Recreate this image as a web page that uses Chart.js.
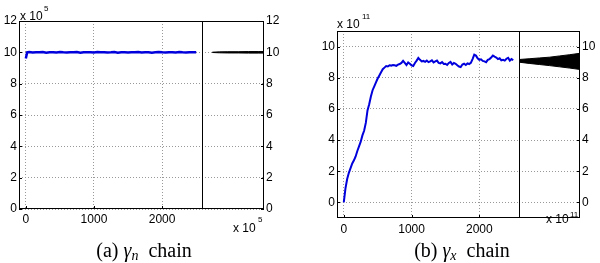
<!DOCTYPE html>
<html>
<head>
<meta charset="utf-8">
<script src="https://cdn.jsdelivr.net/npm/chart.js@4.4.0/dist/chart.umd.min.js"></script>
<style>
  html, body { margin: 0; padding: 0; background: #fff; }
  #wrap { position: relative; width: 600px; height: 263px; overflow: hidden; font-family: "Liberation Sans", Arial, sans-serif; }
  canvas { position: absolute; top: 0; }
  .ex { position: absolute; font-size: 12px; line-height: 12px; white-space: nowrap; color: #000; }
  .sup { position: absolute; font-size: 8px; line-height: 8px; white-space: nowrap; color: #000; }
  .cap { position: absolute; top: 240px; width: 200px; text-align: center; white-space: nowrap;
         font-family: "Liberation Serif", "Times New Roman", serif; font-size: 20px; line-height: 20px; color: #000; }
  .cap i { font-style: italic; }
  .cap sub { font-size: 14px; font-style: italic; vertical-align: -3px; line-height: 0; }
</style>
</head>
<body>
<div id="wrap">
  <canvas id="mainA" width="203" height="240" style="left:0px"></canvas>
  <canvas id="histA" width="80" height="240" style="left:202px"></canvas>
  <canvas id="mainB" width="203" height="250" style="left:317px"></canvas>
  <canvas id="histB" width="81" height="250" style="left:519px"></canvas>

  <div class="ex" style="left:20px;top:10px">x 10</div><div class="sup" style="left:44px;top:5px">5</div>
  <div class="ex" style="left:233px;top:222px">x 10</div><div class="sup" style="left:258px;top:216px">5</div>
  <div class="ex" style="left:337px;top:18px">x 10</div><div class="sup" style="left:362px;top:13px">11</div>
  <div class="ex" style="left:546px;top:213px">x 10</div><div class="sup" style="left:570px;top:211px">11</div>

  <div class="cap" style="left:44px">(a) <i>γ</i><sub>n</sub>&nbsp; chain</div>
  <div class="cap" style="left:362px">(b) <i>γ</i><sub>x</sub>&nbsp; chain</div>
</div>
<script>
// iteration axis
const xTicks = [0, 1000, 2000];
const yTicksA = [0, 2, 4, 6, 8, 10, 12];
const yTicksB = [0, 2, 4, 6, 8, 10];

// (a) gamma_n chain, x 10^5
const stepsA = [0, 20, 50, 100, 150, 200, 250, 300, 350, 400, 450, 500, 550, 600, 650, 700, 750, 800, 850, 900,
  950, 1000, 1050, 1100, 1150, 1200, 1250, 1300, 1350, 1400, 1450, 1500, 1550, 1600, 1650, 1700, 1750, 1800,
  1850, 1900, 1950, 2000, 2050, 2100, 2150, 2200, 2250, 2300, 2350, 2400, 2450, 2500];
const chainA = [9.6, 10.0, 10.02, 9.99, 10.01, 10.0, 10.02, 9.98, 10.0, 10.01, 9.99, 10.02, 10.0, 9.99, 10.01, 10.0,
  10.02, 9.98, 10.0, 10.01, 10.0, 9.99, 10.02, 10.0, 10.01, 9.99, 10.0, 10.02, 9.98, 10.01, 10.0, 9.99, 10.01,
  10.0, 10.02, 9.99, 10.0, 10.01, 9.98, 10.0, 10.02, 10.0, 9.99, 10.01, 10.0, 9.99, 10.02, 10.0, 9.99, 10.01, 10.0, 10.0];

// (b) gamma_x chain, x 10^11
const stepsB = [0, 25, 50, 75, 100, 125, 150, 175, 200, 225, 250, 275, 300, 325, 350, 375, 400, 425, 450, 475,
  500, 525, 550, 575, 600, 625, 650, 675, 700, 725, 750, 775, 800, 825, 850, 875, 900, 925, 950, 975,
  1000, 1025, 1050, 1075, 1100, 1125, 1150, 1175, 1200, 1225, 1250, 1275, 1300, 1325, 1350, 1375, 1400, 1425,
  1450, 1475, 1500, 1525, 1550, 1575, 1600, 1625, 1650, 1675, 1700, 1725, 1750, 1775, 1800, 1825, 1850, 1875,
  1900, 1925, 1950, 1975, 2000, 2025, 2050, 2075, 2100, 2125, 2150, 2175, 2200, 2225, 2250, 2275, 2300, 2325,
  2350, 2375, 2400, 2425, 2450, 2475, 2500];
const chainB = [0, 0.9, 1.5, 1.9, 2.2, 2.5, 2.7, 2.95, 3.3, 3.6, 3.9, 4.3, 4.6, 5.1, 5.9, 6.3, 6.8, 7.2, 7.45, 7.7,
  7.95, 8.15, 8.35, 8.55, 8.65, 8.75, 8.72, 8.8, 8.78, 8.82, 8.8, 8.76, 8.84, 8.88, 8.95, 9.08, 8.95, 8.82, 8.98, 8.9,
  8.8, 8.75, 8.95, 9.1, 9.27, 9.15, 9.05, 9.08, 9.02, 9.1, 9.0, 9.05, 9.12, 8.98, 9.05, 9.1, 8.95, 8.92,
  9.0, 8.88, 8.9, 8.82, 8.95, 9.02, 8.85, 8.95, 8.9, 8.8, 8.72, 8.68, 8.85, 8.9, 8.82, 8.92, 8.88, 8.95,
  9.2, 9.48, 9.42, 9.25, 9.15, 9.18, 9.08, 9.05, 9.0, 9.15, 9.2, 9.3, 9.42, 9.35, 9.3, 9.2, 9.25, 9.12,
  9.15, 9.1, 9.22, 9.28, 9.1, 9.2, 9.12];

// side histograms (outline of the spread)
const histXA = [1.0, 1.7, 2.5, 3.5, 4.5, 5.5, 6.0];
const histUpA = [10.01, 10.03, 10.04, 10.04, 10.05, 10.05, 10.05];
const histLoA = [9.99, 9.97, 9.96, 9.96, 9.95, 9.95, 9.95];
const histXB = [0, 1, 2, 3, 4, 5, 6];
const histUpB = [9.17, 9.22, 9.27, 9.32, 9.40, 9.48, 9.57];
const histLoB = [9.0, 8.92, 8.85, 8.78, 8.70, 8.62, 8.53];

const tickFont = { family: '"Liberation Sans", Arial, sans-serif', size: 12 };
const gridColor = '#999999';

// black box round the plot area, with short inward tick marks
const frame = {
  id: 'frame',
  afterDraw(chart) {
    const a = chart.chartArea, c = chart.ctx;
    c.save();
    c.strokeStyle = '#000';
    c.lineWidth = 1;
    c.strokeRect(a.left + 0.5, a.top + 0.5, a.right - a.left - 1, a.bottom - a.top - 1);
    const y = chart.scales.y;
    const right = y.options.position === 'right';
    c.beginPath();
    y.ticks.forEach(t => {
      const py = Math.round(y.getPixelForValue(t.value)) + 0.5;
      if (right) { c.moveTo(a.right, py); c.lineTo(a.right - 3, py); }
      else { c.moveTo(a.left, py); c.lineTo(a.left + 3, py); }
    });
    const x = chart.scales.x;
    if (x.options.display) {
      x.ticks.forEach(t => {
        const px = Math.round(x.getPixelForValue(t.value)) + 0.5;
        c.moveTo(px, a.bottom); c.lineTo(px, a.bottom - 3);
      });
    }
    c.stroke();
    c.restore();
  }
};

function pts(xs, ys) {
  return xs.map((x, i) => ({ x: x, y: ys[i] }));
}

function mainChart(id, xs, ys, yMin, yMax, yTicks, top, xH, yW, xPad, lw) {
  return new Chart(document.getElementById(id), {
    type: 'line',
    data: {
      datasets: [{
        data: pts(xs, ys),
        borderColor: '#0000dc',
        borderWidth: lw,
        pointRadius: 0,
        tension: 0,
        fill: false
      }]
    },
    options: {
      responsive: false,
      animation: false,
      devicePixelRatio: 1,
      layout: { padding: { top: top, right: 0, left: 0, bottom: 0 } },
      plugins: { legend: { display: false }, tooltip: { enabled: false } },
      scales: {
        x: {
          type: 'linear', min: -100, max: 2600,
          afterBuildTicks: s => { s.ticks = xTicks.map(v => ({ value: v })); },
          afterFit: s => { s.height = xH; },
          grid: { color: gridColor, drawTicks: false },
          border: { display: false, dash: [1, 2] },
          ticks: { color: '#000', font: tickFont, padding: xPad, maxRotation: 0, autoSkip: false, callback: v => String(v) }
        },
        y: {
          min: yMin, max: yMax,
          afterBuildTicks: s => { s.ticks = yTicks.map(v => ({ value: v })); },
          afterFit: s => { s.width = yW; },
          grid: { color: gridColor, drawTicks: false },
          border: { display: false, dash: [1, 2] },
          ticks: { color: '#000', font: tickFont, padding: 2, callback: v => String(v) }
        }
      }
    },
    plugins: [frame]
  });
}

function histChart(id, hx, up, lo, yMin, yMax, yTicks, top, bottom, yW) {
  return new Chart(document.getElementById(id), {
    type: 'line',
    data: {
      datasets: [
        { data: pts(hx, up), borderColor: '#000', borderWidth: 1, pointRadius: 0, tension: 0, fill: false },
        { data: pts(hx, lo), borderColor: '#000', borderWidth: 1, pointRadius: 0, tension: 0, fill: '-1', backgroundColor: '#000' }
      ]
    },
    options: {
      responsive: false,
      animation: false,
      devicePixelRatio: 1,
      layout: { padding: { top: top, right: 0, left: 0, bottom: bottom } },
      plugins: { legend: { display: false }, tooltip: { enabled: false } },
      scales: {
        x: { type: 'linear', min: 0, max: 6, display: false },
        y: {
          position: 'right',
          min: yMin, max: yMax,
          afterBuildTicks: s => { s.ticks = yTicks.map(v => ({ value: v })); },
          afterFit: s => { s.width = yW; },
          grid: { color: gridColor, drawTicks: false },
          border: { display: false, dash: [1, 2] },
          ticks: { color: '#000', font: tickFont, padding: 2, callback: v => String(v) }
        }
      }
    },
    plugins: [frame]
  });
}

mainChart('mainA', stepsA, chainA, 0, 12, yTicksA, 21, 31, 19, 3, 2.5);
histChart('histA', histXA, histUpA, histLoA, 0, 12, yTicksA, 21, 31, 18);
mainChart('mainB', stepsB, chainB, -1, 11, yTicksB, 31, 32, 20, 4, 2);
histChart('histB', histXB, histUpB, histLoB, -1, 11, yTicksB, 31, 32, 20);
</script>
</body>
</html>
